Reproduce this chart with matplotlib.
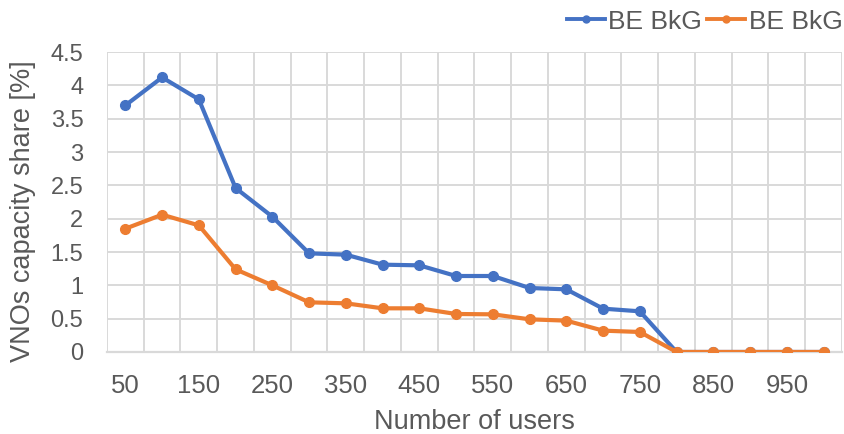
import matplotlib
matplotlib.use("Agg")
import matplotlib.pyplot as plt
from matplotlib.lines import Line2D
import numpy as np

plt.rcParams['font.family'] = ['Liberation Sans', 'DejaVu Sans']

# users per scenario (category axis)
users = [50, 100, 150, 200, 250, 300, 350, 400, 450, 500,
         550, 600, 650, 700, 750, 800, 850, 900, 950, 1000]

# capacity share of each VNO [%]
share_a = [3.70, 4.12, 3.79, 2.46, 2.03, 1.48, 1.46, 1.31, 1.30, 1.14,
           1.14, 0.96, 0.94, 0.65, 0.61, 0.0, 0.0, 0.0, 0.0, 0.0]
share_b = [1.85, 2.06, 1.90, 1.24, 1.00, 0.745, 0.73, 0.655, 0.655, 0.57,
           0.565, 0.49, 0.47, 0.32, 0.30, 0.0, 0.0, 0.0, 0.0, 0.0]
series_names = ['BE BkG', 'BE BkG']

blue = '#4472C4'
orange = '#ED7D31'
text_col = '#595959'
grid_col = '#D9D9D9'

fig = plt.figure(figsize=(8.45, 4.34), dpi=100)
ax = fig.add_axes([0.1266, 0.189, 0.8698, 0.691])

x = np.arange(len(users))
ax.plot(x, share_a, color=blue, lw=3.0, marker='o', ms=7, zorder=3)
ax.plot(x, share_b, color=orange, lw=3.0, marker='o', ms=7, zorder=4)

ax.set_xlim(-0.5, len(users) - 0.5)
ax.set_ylim(0, 4.5)
ax.set_yticks(np.arange(0, 4.51, 0.5))
ax.set_yticklabels(['0', '0.5', '1', '1.5', '2', '2.5', '3', '3.5', '4', '4.5'])

# labels on every other category, gridlines on category boundaries
ax.set_xticks(x[::2])
ax.set_xticklabels([str(u) for u in users[::2]])
ax.set_xticks(np.arange(-0.5, len(users), 1), minor=True)
ax.grid(True, which='minor', axis='x', color=grid_col, lw=1.4)
ax.grid(True, which='major', axis='y', color=grid_col, lw=1.4)
ax.set_axisbelow(True)

ax.tick_params(axis='both', which='both', length=0, colors=text_col)
ax.tick_params(axis='x', pad=16, labelsize=18.5)
ax.tick_params(axis='y', pad=17, labelsize=17)

for side in ['top', 'right', 'left']:
    ax.spines[side].set_visible(False)
ax.spines['bottom'].set_color(grid_col)
ax.spines['bottom'].set_linewidth(1.6)

ax.set_xlabel('Number of users', fontsize=19.5, color=text_col, labelpad=8)
ax.set_ylabel('VNOs capacity share [%]', fontsize=19.5, color=text_col)
ax.yaxis.set_label_coords(-0.097, 0.47)

handles = [Line2D([], [], color=blue, lw=2.8, marker='o', ms=5),
           Line2D([], [], color=orange, lw=2.8, marker='o', ms=5)]
fig.legend(handles, series_names, loc='center right', bbox_to_anchor=(0.997, 0.95),
           ncol=2, frameon=False, fontsize=19, handlelength=1.45, handletextpad=0.12,
           columnspacing=0.2, labelcolor=text_col, borderaxespad=0.0, borderpad=0.0)

fig.savefig('out.png', dpi=100)
